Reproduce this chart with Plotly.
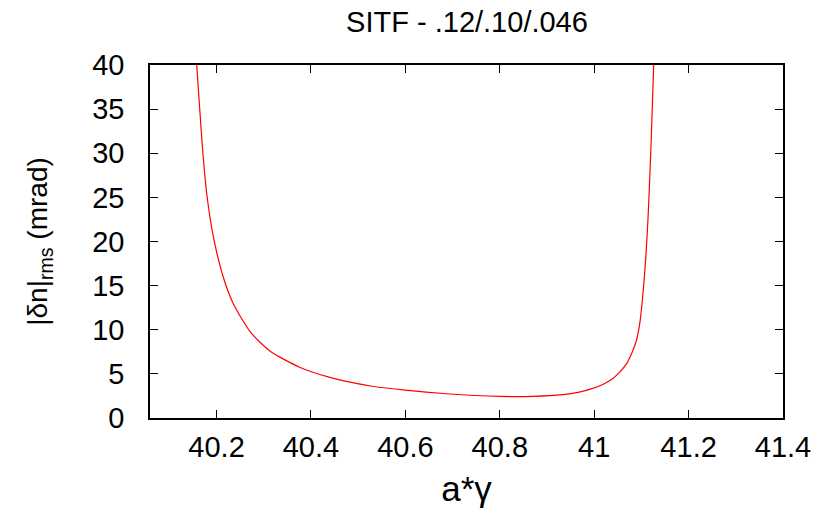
import plotly.graph_objects as go

x_vals = [40.158, 40.165, 40.1705, 40.179, 40.193, 40.214, 40.235, 40.271, 40.29,
          40.313, 40.334, 40.355, 40.376, 40.398, 40.44, 40.475, 40.53, 40.60,
          40.687, 40.80, 40.87, 40.934, 40.966, 40.997, 41.018, 41.039, 41.054,
          41.068, 41.080, 41.089, 41.097, 41.104, 41.110, 41.114, 41.117, 41.120,
          41.123, 41.126]
y_vals = [40.0, 34.5, 30.4, 25.5, 20.6, 16.0, 13.0, 9.8, 8.7,
          7.6, 6.9, 6.3, 5.75, 5.3, 4.6, 4.15, 3.6, 3.15,
          2.75, 2.45, 2.45, 2.64, 2.9, 3.35, 3.8, 4.45, 5.2,
          6.1, 7.4, 8.7, 10.9, 14.5, 18.8, 22.6, 26.3, 30.4,
          35.0, 40.0]

x_ticks = [40.2, 40.4, 40.6, 40.8, 41.0, 41.2, 41.4]
x_tick_text = ["40.2", "40.4", "40.6", "40.8", "41", "41.2", "41.4"]
y_ticks = [0, 5, 10, 15, 20, 25, 30, 35, 40]

fig = go.Figure()
fig.add_trace(go.Scatter(x=x_vals, y=y_vals, mode="lines",
                         line=dict(color="#ff0000", width=1.2, shape="spline", smoothing=0.8),
                         showlegend=False))

font_family = "Liberation Sans, Arial, sans-serif"
fig.update_layout(
    width=838, height=513,
    margin=dict(l=150, r=55, t=65, b=95, autoexpand=False),
    paper_bgcolor="white", plot_bgcolor="white",
    font=dict(family=font_family, size=29, color="black"),
    title=dict(text="SITF - .12/.10/.046", x=467 / 838, xanchor="center",
               y=1 - 22 / 513, yanchor="middle", font=dict(size=29)),
    xaxis=dict(range=[40.059, 41.4], tickvals=x_ticks, ticktext=x_tick_text,
               ticks="inside", ticklen=8, tickwidth=1, tickcolor="black",
               showline=True, linecolor="black", linewidth=1.5, mirror="allticks",
               showgrid=False, zeroline=False, ticklabelstandoff=2, automargin=False,
               title=dict(text="a*γ", standoff=15)),
    yaxis=dict(range=[0, 40], tickvals=y_ticks,
               ticks="inside", ticklen=8, tickwidth=1, tickcolor="black",
               showline=True, linecolor="black", linewidth=1.5, mirror="allticks",
               showgrid=False, zeroline=False, ticklabelstandoff=18, automargin=False,
               title=dict(text="|δn|<sub>rms</sub> (mrad)", standoff=36,
                          font=dict(size=28))),
)

fig.write_html("out.html", config={"displayModeBar": False},
               post_script="document.body.style.margin='0';document.body.style.padding='0';")
